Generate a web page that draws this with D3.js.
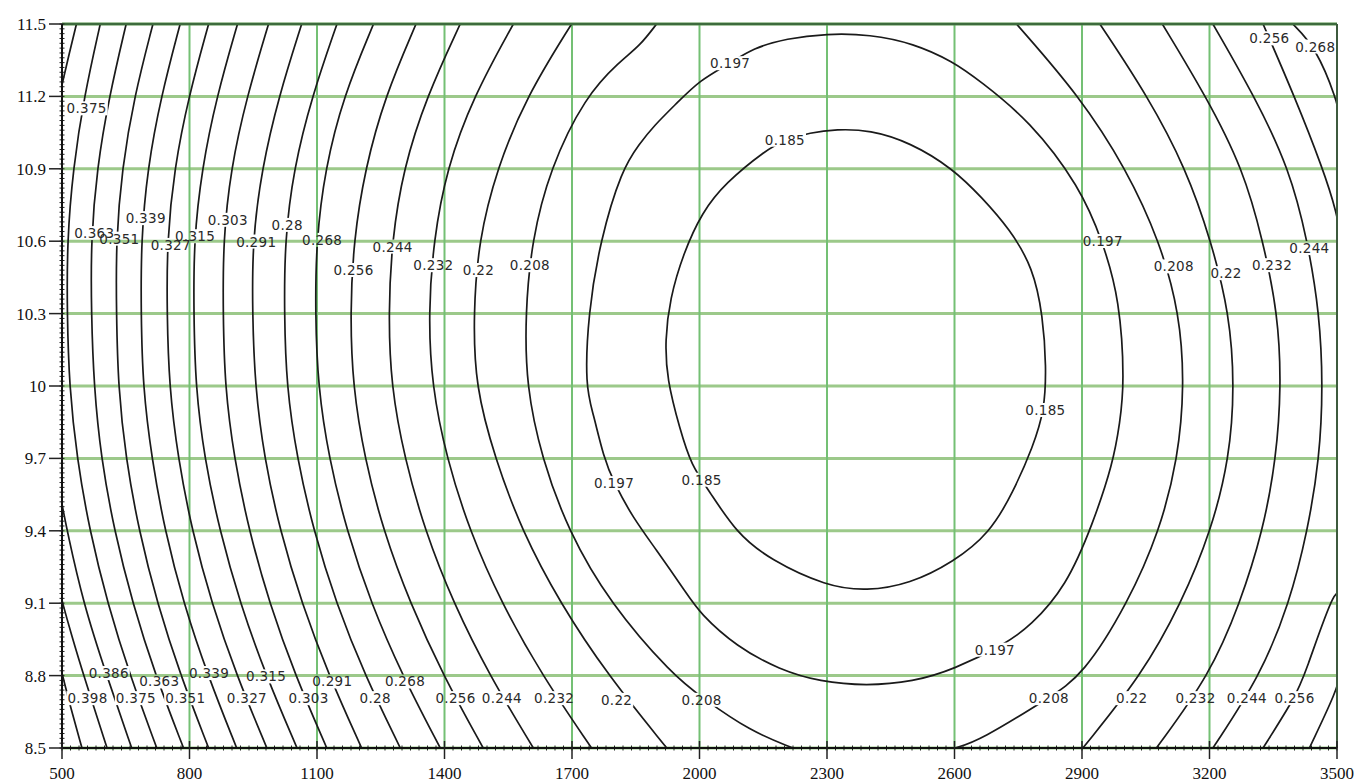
<!DOCTYPE html>
<html><head><meta charset="utf-8">
<script src="https://cdn.jsdelivr.net/npm/d3@7"></script>
<style>body{margin:0;background:#fff}svg{display:block}</style>
</head><body><svg id="chart" width="1361" height="783"></svg>
<script>
// ---------- data ----------
const xTicks = [500,800,1100,1400,1700,2000,2300,2600,2900,3200,3500];
const yTicks = [8.5,8.8,9.1,9.4,9.7,10,10.3,10.6,10.9,11.2,11.5];
const yTickLabels = ["8.5","8.8","9.1","9.4","9.7","10","10.3","10.6","10.9","11.2","11.5"];

// y values at which the open arcs were read
const rowY = [11.5,11.2,10.9,10.6,10.3,10.0,9.7,9.4,9.1,8.8,8.5];

// left-hand arcs: x at each rowY
const leftLevels = [0.375,0.363,0.351,0.339,0.327,0.315,0.303,0.291,0.28,0.268,0.256,0.244,0.232,0.22];
const leftRowX = [
  [590,552,526,512,512,517,535,565,607,660,723],
  [651,611,582,568,569,575,592,623,666,720,786],
  [714,670,641,627,628,632,650,681,724,779,845],
  [778,733,701,686,686,690,711,742,786,843,911],
  [845,798,764,747,747,752,773,806,852,911,982],
  [913,864,829,810,810,814,835,871,919,980,1053],
  [986,935,897,879,879,883,905,940,988,1049,1123],
  [1064,1010,970,948,948,954,976,1013,1064,1128,1205],
  [1147,1088,1045,1024,1023,1028,1053,1092,1145,1213,1296],
  [1233,1162,1119,1098,1096,1102,1128,1170,1227,1301,1390],
  [1333,1260,1213,1186,1178,1184,1212,1256,1319,1397,1491],
  [1437,1358,1303,1276,1268,1274,1306,1354,1421,1506,1609],
  [1562,1468,1405,1374,1362,1370,1405,1459,1534,1630,1746],
  [1699,1593,1523,1480,1468,1472,1519,1582,1672,1785,1923]
];

// right-hand arcs: x at each rowY
const rightLevels = [0.22,0.232,0.244];
const rightRowX = [
  [2942,3055,3145,3204,3247,3259,3247,3204,3134,3040,2902],
  [3089,3192,3279,3326,3361,3369,3357,3326,3272,3200,3075],
  [3208,3306,3388,3431,3459,3467,3459,3431,3388,3320,3208]
];

// other open pieces, as [x, y] points
const pieceLevels = [0.386,0.386,0.398,0.41,0.208,0.208,0.256,0.256,0.268,0.268];
const piecePoints = [
  [[534,11.5],[516,11.37],[500,11.25],[488,11.15]],
  [[488,9.62],[500,9.51],[512,9.4],[550,9.1],[605,8.8],[664,8.5]],
  [[490,9.18],[500,9.11],[522,8.97],[551,8.8],[606,8.5]],
  [[490,8.88],[500,8.81],[520,8.67],[547,8.5]],
  [[1899,11.5],[1860,11.41],[1813,11.346],[1731,11.2],[1648,10.9],[1605,10.6],[1590,10.3],[1592,10.0],[1629,9.7],[1691,9.4],[1789,9.1],[1938,8.8],[2005,8.71],[2119,8.57],[2220,8.5]],
  [[2746,11.5],[2895,11.2],[3004,10.9],[3083,10.6],[3130,10.3],[3141,10.0],[3126,9.7],[3083,9.4],[3008,9.1],[2902,8.8],[2824,8.71],[2659,8.53],[2601,8.5]],
  [[3326,11.5],[3400,11.2],[3467,10.9],[3500,10.716],[3510,10.6]],
  [[3510,9.1],[3500,9.196],[3424,8.8],[3400,8.706],[3326,8.5]],
  [[3396,11.5],[3449,11.406],[3500,11.185],[3508,11.1]],
  [[3510,8.82],[3500,8.74],[3435,8.5]]
];

// closed contours around the minimum, as [x, y] points
const loopLevels = [0.185,0.197];
const loopPoints = [
  [[2201,11.02],[2260,11.05],[2322,11.064],[2401,11.061],[2495,11.01],[2597,10.90],[2665,10.78],[2730,10.65],[2785,10.49],[2808,10.29],[2816,10.08],[2812,9.90],[2785,9.75],[2738,9.56],[2683,9.39],[2597,9.27],[2495,9.18],[2393,9.15],[2299,9.17],[2166,9.28],[2087,9.39],[2021,9.57],[1981,9.67],[1954,9.82],[1923,10.03],[1919,10.19],[1930,10.36],[1962,10.55],[2006,10.72],[2060,10.84],[2158,10.98]],
  [[2299,11.46],[2401,11.457],[2503,11.42],[2597,11.344],[2659,11.265],[2777,11.10],[2895,10.826],[2949,10.598],[2989,10.357],[3000,10.011],[2989,9.846],[2973,9.68],[2926,9.431],[2863,9.169],[2777,9.003],[2722,8.934],[2597,8.824],[2503,8.775],[2393,8.757],[2283,8.775],[2189,8.824],[2087,8.92],[2001,9.058],[1970,9.14],[1895,9.33],[1845,9.45],[1799,9.597],[1774,9.707],[1750,9.887],[1731,9.997],[1738,10.30],[1766,10.6],[1817,10.898],[1860,11.006],[1891,11.075],[1946,11.171],[2001,11.268],[2072,11.337],[2126,11.40],[2205,11.44]]
];

// contour labels
const labelText = ["0.375","0.363","0.351","0.339","0.327","0.315","0.303","0.291","0.28","0.268","0.256","0.244","0.232","0.22","0.208",
  "0.197","0.185","0.197","0.185","0.185","0.197","0.197",
  "0.208","0.22","0.232","0.244","0.256","0.268",
  "0.398","0.386","0.375","0.363","0.351","0.339","0.327","0.315","0.303","0.291","0.28","0.268","0.256","0.244","0.232","0.22","0.208",
  "0.208","0.22","0.232","0.244","0.256"];
const labelX = [558,576,635,697,756,813,890,957,1030,1112,1186,1278,1374,1480,1601,
  2072,2201,1799,2005,2814,2949,2695,
  3116,3239,3347,3435,3341,3449,
  560,610,674,729,790,846,935,980,1080,1136,1237,1307,1426,1535,1658,1805,2005,
  2822,3017,3167,3288,3400];
const labelY = [11.15,10.633,10.61,10.695,10.584,10.62,10.688,10.598,10.667,10.605,10.48,10.577,10.50,10.48,10.50,
  11.337,11.02,9.597,9.611,9.90,10.6,8.907,
  10.495,10.467,10.50,10.571,11.44,11.406,
  8.706,8.81,8.706,8.775,8.706,8.81,8.706,8.796,8.706,8.775,8.706,8.775,8.706,8.706,8.706,8.699,8.699,
  8.706,8.706,8.706,8.706,8.706];

// ---------- drawing ----------
const W = 1361, H = 783;
const m = {left:62, right:24, top:24, bottom:35};
const x = d3.scaleLinear().domain([500,3500]).range([m.left, W - m.right]);
const y = d3.scaleLinear().domain([8.5,11.5]).range([H - m.bottom, m.top]);
const svg = d3.select("#chart");
const defs = svg.append("defs");

defs.append("clipPath").attr("id","plotclip").append("rect")
  .attr("x", x(500)).attr("y", y(11.5)).attr("width", x(3500)-x(500)).attr("height", y(8.5)-y(11.5));

// gridlines
const grid = svg.append("g");
grid.selectAll("line.h").data(yTicks).join("line").attr("class","h")
  .attr("x1", x(500)).attr("x2", x(3500)).attr("y1", d => y(d)).attr("y2", d => y(d))
  .attr("stroke", "#9cc98a").attr("stroke-width", 3);
grid.selectAll("line.v").data(xTicks).join("line").attr("class","v")
  .attr("y1", y(8.5)).attr("y2", y(11.5)).attr("x1", d => x(d)).attr("x2", d => x(d))
  .attr("stroke", "#74c074").attr("stroke-width", 2);

const labelData = labelText.map((t,i) => ({t, x:labelX[i], y:labelY[i]}));
const mask = defs.append("mask").attr("id","lblmask").attr("maskUnits","userSpaceOnUse")
  .attr("x",0).attr("y",0).attr("width",W).attr("height",H);
mask.append("rect").attr("x",0).attr("y",0).attr("width",W).attr("height",H).attr("fill","#fff");

const contours = svg.append("g").attr("clip-path","url(#plotclip)")
  .append("g").attr("mask","url(#lblmask)")
  .attr("fill","none").attr("stroke","#1a1a1a").attr("stroke-width",1.7);

const line = d3.line().x(d => x(d[0])).y(d => y(d[1])).curve(d3.curveBasis);
const loop = d3.line().x(d => x(d[0])).y(d => y(d[1])).curve(d3.curveBasisClosed);

leftRowX.forEach((xs, i) => {
  contours.append("path").attr("data-level", leftLevels[i]).attr("d", line(xs.map((v,j) => [v, rowY[j]])));
});
rightRowX.forEach((xs, i) => {
  contours.append("path").attr("data-level", rightLevels[i]).attr("d", line(xs.map((v,j) => [v, rowY[j]])));
});
piecePoints.forEach((pts, i) => {
  contours.append("path").attr("data-level", pieceLevels[i]).attr("d", line(pts));
});
loopPoints.forEach((pts, i) => {
  contours.append("path").attr("data-level", loopLevels[i]).attr("d", loop(pts));
});

const labels = svg.append("g")
  .attr("font-family","'DejaVu Sans', Verdana, sans-serif").attr("font-size",13.5)
  .attr("fill","#2a2a2a").attr("text-anchor","middle");
labels.selectAll("text").data(labelData).join("text")
  .attr("x", d => x(d.x)).attr("y", d => y(d.y)).attr("dy","0.36em")
  .attr("letter-spacing","0.3")
  .text(d => d.t)
  .each(function(){
    const b = this.getBBox();
    mask.append("rect").attr("x", b.x - 1).attr("y", b.y + 1).attr("width", b.width + 2).attr("height", b.height - 2).attr("fill","#000");
  });

// frame (top and right edges)
svg.append("line").attr("x1", x(500)).attr("x2", x(3500)).attr("y1", y(11.5)).attr("y2", y(11.5))
  .attr("stroke","#3d6b3d").attr("stroke-width",2.5);
svg.append("line").attr("x1", x(3500)).attr("x2", x(3500)).attr("y1", y(11.5)).attr("y2", y(8.5))
  .attr("stroke","#3d5a3d").attr("stroke-width",2);

// left axis with ruler ticks
const ax = svg.append("g");
ax.selectAll("line.minor").data(y.ticks(150)).join("line").attr("class","minor")
  .attr("x1", x(500)-2.5).attr("x2", x(500)+2.5).attr("y1", d => y(d)).attr("y2", d => y(d))
  .attr("stroke","#222").attr("stroke-width",1);
ax.append("line").attr("x1", x(500)).attr("x2", x(500)).attr("y1", y(11.5)).attr("y2", y(8.5))
  .attr("stroke","#111").attr("stroke-width",2);
ax.selectAll("line.ytick").data(yTicks).join("line").attr("class","ytick")
  .attr("x1", x(500)-13).attr("x2", x(500)).attr("y1", d => y(d)).attr("y2", d => y(d))
  .attr("stroke","#222").attr("stroke-width",1.5);
ax.selectAll("text.ylab").data(yTicks).join("text").attr("class","ylab")
  .attr("x", x(500)-16).attr("y", d => y(d)).attr("dy","0.35em").attr("text-anchor","end")
  .attr("font-family","'Liberation Serif', 'Times New Roman', serif").attr("font-size",17).attr("fill","#111")
  .text((d,i) => yTickLabels[i]);

// bottom axis
ax.selectAll("line.xminor").data(x.ticks(150)).join("line").attr("class","xminor")
  .attr("y1", y(8.5)-2.5).attr("y2", y(8.5)+2.5).attr("x1", d => x(d)).attr("x2", d => x(d))
  .attr("stroke","#222").attr("stroke-width",1);
ax.append("line").attr("x1", x(500)).attr("x2", x(3500)).attr("y1", y(8.5)).attr("y2", y(8.5))
  .attr("stroke","#111").attr("stroke-width",2);
ax.selectAll("line.xtick").data(xTicks).join("line").attr("class","xtick")
  .attr("y1", y(8.5)-7).attr("y2", y(8.5)+11).attr("x1", d => x(d)).attr("x2", d => x(d))
  .attr("stroke","#222").attr("stroke-width",1.5);
ax.selectAll("text.xlab").data(xTicks).join("text").attr("class","xlab")
  .attr("x", d => x(d)).attr("y", y(8.5)+31).attr("text-anchor","middle")
  .attr("font-family","'Liberation Serif', 'Times New Roman', serif").attr("font-size",17).attr("fill","#111")
  .text(d => d);
</script></body></html>
